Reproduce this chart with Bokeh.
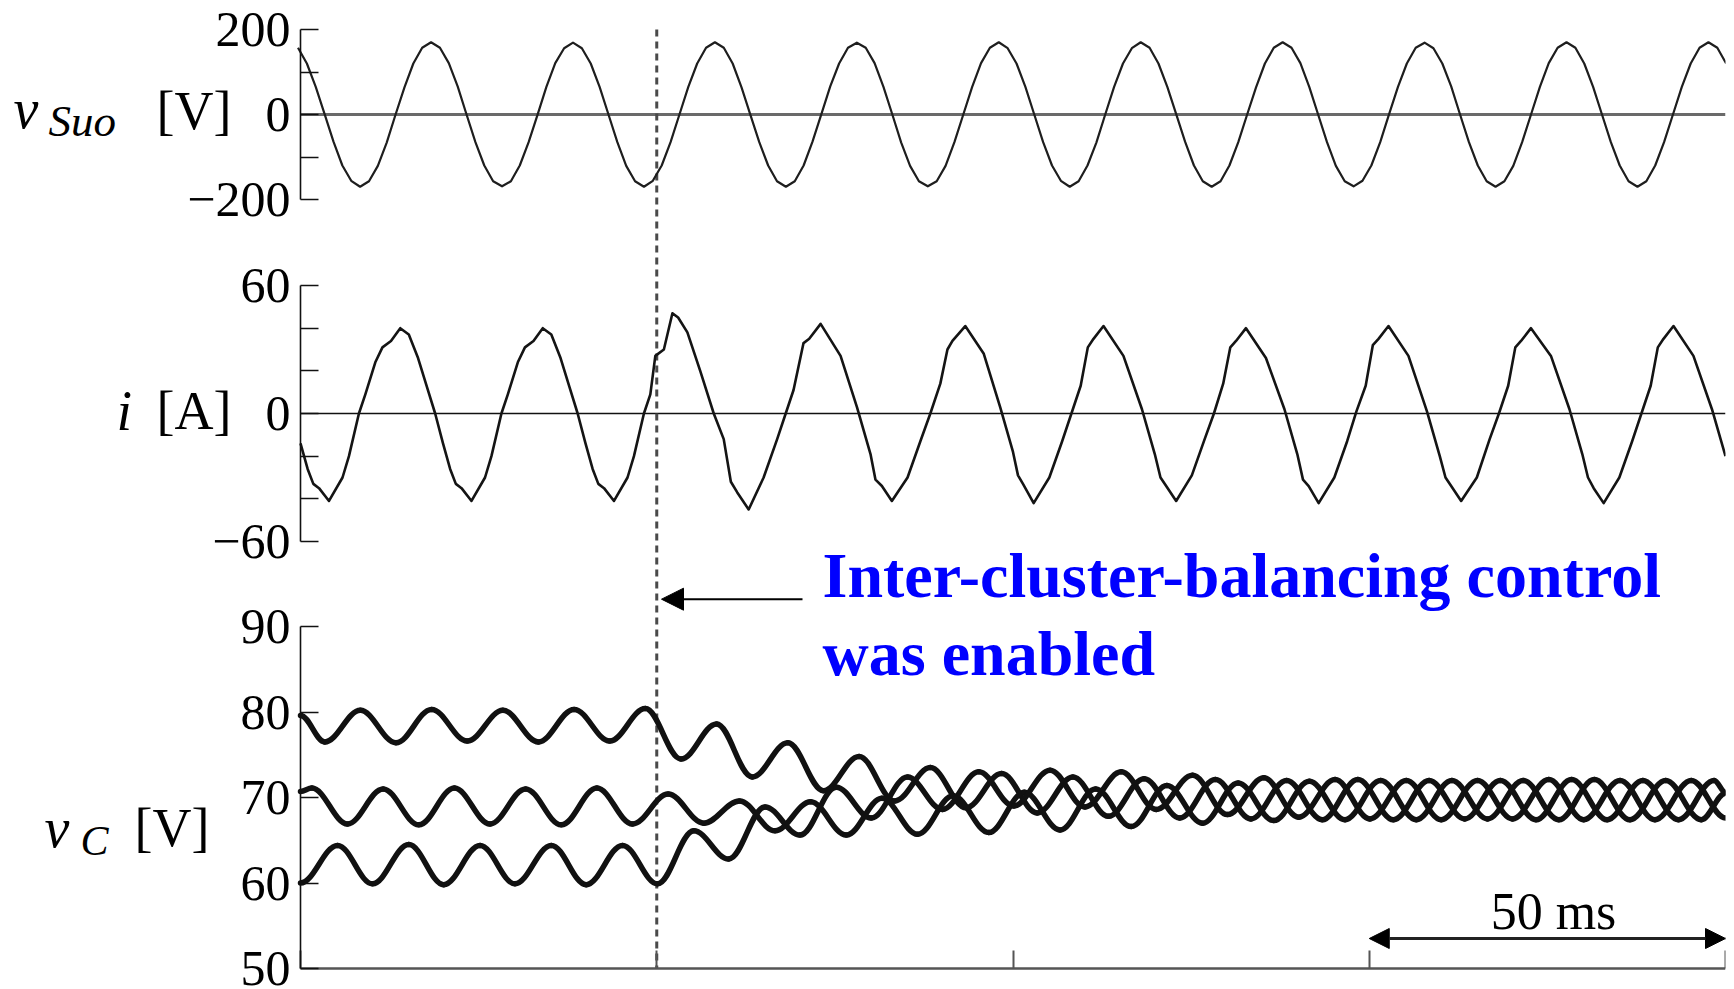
import numpy as np
from bokeh.plotting import figure
from bokeh.models import Range1d, FixedTicker, Label, Arrow, NormalHead, LinearAxis
from bokeh.embed import file_html
from bokeh.resources import INLINE

# ======================= data =======================
t_enable = 50.0                       # ms, balancing control switched on
time_ticks = [0, 50, 100, 150, 200]   # ms

# source voltage v_Suo [V], one reading every vsuo_dt ms from vsuo_t0
vsuo_t0 = -0.35
vsuo_dt = 1.245
v_suo = [157, 120, 65, 1, -64, -120, -156, -170, -157, -121, -66, 0, 64, 120, 157, 170,
         157, 121, 66, 0, -65, -120, -157, -169, -157, -120, -65, -1, 65, 121, 156, 169,
         156, 120, 65, 0, -65, -121, -157, -170, -156, -120, -65, 0, 65, 120, 157, 170,
         157, 120, 64, -1, -65, -120, -157, -170, -157, -120, -64, 1, 66, 120, 157, 169,
         157, 121, 65, 0, -66, -121, -157, -169, -157, -121, -65, 0, 65, 121, 157, 170,
         156, 120, 65, 0, -65, -120, -156, -170, -157, -120, -66, 0, 65, 120, 156, 170,
         157, 120, 65, 1, -64, -120, -157, -170, -157, -120, -65, 0, 64, 120, 157, 170,
         157, 121, 65, 0, -65, -121, -157, -169, -156, -120, -65, 1, 65, 120, 157, 169,
         156, 120, 66, 0, -65, -120, -157, -170, -157, -121, -65, 0, 65, 121, 157, 170,
         157, 120, 65, 0, -65, -120, -157, -170, -157, -120, -65, 0, 65, 120, 157, 170,
         157, 120]

# current i [A] at read-off instants [ms]
i_t = [0.0, 1.0, 1.8, 2.6,
       4.0, 5.9, 6.8, 8.2, 9.1, 10.5, 11.5, 12.7, 14.0, 15.2, 16.5, 17.7, 18.9, 20.0, 21.0, 21.8, 22.6,
       24.0, 25.9, 26.8, 28.2, 29.1, 30.5, 31.5, 32.7, 34.0, 35.2, 36.5, 37.7, 38.9, 40.0, 41.0, 41.8, 42.6,
       44.0, 45.9, 46.8, 48.2, 49.1,
       49.8, 51.0, 52.2, 53.0, 54.3, 56.1, 58.0, 59.4, 60.4, 61.3, 62.9,
       65.0, 66.9, 68.1, 69.2, 70.6, 71.4, 73.0, 75.8, 78.1, 80.0, 80.7, 81.6,
       83.0, 85.2, 87.0, 88.4, 89.8, 90.8, 91.5, 93.3, 95.9, 98.2, 100.0, 100.7, 101.4,
       102.9, 105.1, 106.9, 108.2, 109.5, 110.5, 111.3, 112.7, 115.5, 118.1, 119.9, 120.7, 121.5,
       122.9, 125.1, 126.9, 128.2, 129.5, 130.5, 131.3, 132.7, 135.5, 138.1, 139.9, 140.7, 141.5,
       142.9, 145.1, 146.9, 148.2, 149.5, 150.5, 151.3, 152.7, 155.5, 158.1, 159.9, 160.7, 161.5,
       162.9, 165.1, 166.9, 168.2, 169.5, 170.5, 171.3, 172.7, 175.5, 178.1, 179.9, 180.7, 181.5,
       182.9, 185.1, 186.9, 188.2, 189.5, 190.5, 191.3, 192.7, 195.5, 198.1, 200.0]
i_a = [-14, -26, -33, -35,
       -41, -30, -20, 0, 9, 24, 31, 34, 40, 37, 26, 13, 0, -14, -26, -33, -35,
       -41, -30, -20, 0, 9, 24, 31, 34, 40, 37, 26, 13, 0, -14, -26, -33, -35,
       -41, -30, -20, 0, 9,
       27, 30, 47, 45, 38, 20, 0, -12, -32, -37, -45,
       -30, -12, 0, 11, 33, 35, 42, 27, 3, -19, -31, -34,
       -41, -30, -13, 0, 14, 30, 34, 41, 28, 3, -18, -29, -33,
       -42, -30, -13, 0, 13, 31, 35, 41, 27, 2, -19, -30, -34,
       -41, -29, -12, 0, 14, 31, 34, 40, 26, 2, -19, -31, -34,
       -42, -30, -13, 1, 13, 32, 35, 41, 27, 1, -20, -30, -34,
       -41, -30, -12, 0, 13, 31, 34, 40, 27, 2, -19, -30, -35,
       -42, -30, -13, 0, 13, 31, 35, 41, 27, 2, -20]

# cluster capacitor voltages v_C [V]: ripple extremes [ms, V]
vc1_t = [0, 3.4, 8.4, 13.4, 18.4, 23.4, 28.4, 33.4, 38.4, 43.4, 48.4, 53.4, 58.4, 63.4, 68.4,
         73.4, 78.4, 83.4, 88.4, 93.4, 98.4, 103.4, 108.4, 113.4, 118.4, 123.4, 128.4, 133.4,
         138.4, 143.4, 148.4, 153.4, 158.4, 163.4, 168.4, 173.4, 178.4, 183.4, 188.4, 193.4,
         198.4, 200]
vc1 = [79.6, 76.5, 80.2, 76.4, 80.3, 76.6, 80.2, 76.5, 80.3, 76.6, 80.4, 74.5, 78.6, 72.4, 76.4,
       70.8, 74.8, 69.6, 73.5, 68.8, 72.8, 68.2, 72.4, 67.8, 72.2, 67.6, 72.1, 67.5,
       72.0, 67.4, 72.1, 67.4, 72.0, 67.5, 72.0, 67.4, 72.1, 67.4, 72.0, 67.4,
       72.0, 70.6]
vc2_t = [0, 1.6, 6.6, 11.6, 16.6, 21.6, 26.6, 31.6, 36.6, 41.6, 46.6, 51.6, 56.6, 61.6, 66.6,
         71.6, 76.6, 81.6, 86.6, 91.6, 96.6, 101.6, 106.6, 111.6, 116.6, 121.6, 126.6, 131.6,
         136.6, 141.6, 146.6, 151.6, 156.6, 161.6, 166.6, 171.6, 176.6, 181.6, 186.6, 191.6,
         196.6, 200]
vc2 = [70.7, 71.1, 66.9, 71.0, 66.8, 71.1, 66.9, 71.0, 66.8, 71.1, 66.9, 70.4, 67.0, 69.6, 66.1,
       69.5, 65.6, 69.9, 65.7, 70.2, 65.9, 70.6, 66.2, 71.0, 66.6, 71.4, 67.0, 71.7,
       67.3, 71.9, 67.4, 72.0, 67.4, 72.0, 67.5, 72.0, 67.4, 72.1, 67.4, 72.0,
       67.4, 70.5]
vc3_t = [0, 5.2, 10.1, 15.2, 20.1, 25.2, 30.1, 35.2, 40.1, 45.2, 50.1, 55.2, 60.1, 65.2, 70.1,
         75.2, 80.1, 85.2, 90.1, 95.2, 100.1, 105.2, 110.1, 115.2, 120.1, 125.2, 130.1, 135.2,
         140.1, 145.2, 150.1, 155.2, 160.1, 165.2, 170.1, 175.2, 180.1, 185.2, 190.1, 195.2, 200]
vc3 = [60.0, 64.4, 59.9, 64.5, 59.8, 64.4, 59.9, 64.4, 59.8, 64.4, 59.9, 66.1, 62.8, 68.9, 65.6,
       71.2, 67.6, 72.4, 68.6, 73.0, 69.0, 73.2, 68.9, 73.0, 68.6, 72.6, 68.0, 72.3,
       67.7, 72.1, 67.5, 72.0, 67.4, 72.0, 67.5, 72.1, 67.4, 72.0, 67.4, 72.0, 67.6]

# axes ticks and texts
top_ticks, top_minor = [-200, 0, 200], [-100, 100]
top_labels = {-200: "\u2212200"}
mid_ticks, mid_minor = [-60, 0, 60], [-40, -20, 20, 40]
mid_labels = {-60: "\u221260"}
bot_ticks = [50, 60, 70, 80, 90]
note_lines = ["Inter-cluster-balancing control", "was enabled"]
scale_start, scale_end = 150, 200
scale_text = "50 ms"

# ======================= layout (pixels) =======================
W, H = 1734, 989
AXIS_X = 300              # canvas x of t = 0
RIGHT = 9
PX_MS = (W - AXIS_X - RIGHT) / 200.0
SERIF = "Liberation Serif"


def ms(px):
    return (px - AXIS_X) / PX_MS


class Panel:
    """maps one sub-panel's values onto the shared frame (0 .. H px)"""
    def __init__(self, v_hi, px_hi, v_lo, px_lo):
        self.k = (px_lo - px_hi) / (v_hi - v_lo)
        self.end = v_hi + px_hi / self.k
        self.start = v_lo - (H - px_lo) / self.k

    def y(self, px):
        return self.end - px / self.k

    def rng(self):
        return Range1d(self.start, self.end)


PV = Panel(200, 29, -200, 199)
PI = Panel(60, 285, -60, 541)
PC = Panel(90, 626, 50, 968)

p = figure(width=W, height=H, title=None,
           x_range=Range1d(ms(0), 200), y_range=PV.rng(),
           output_backend="svg", toolbar_location=None,
           x_axis_location=None, y_axis_location=None,
           min_border_left=0, min_border_right=RIGHT,
           min_border_top=0, min_border_bottom=0)
p.extra_y_ranges = {"i": PI.rng(), "vc": PC.rng()}
p.outline_line_color = None
p.background_fill_color = "white"
p.border_fill_color = "white"
for g in p.grid:
    g.visible = False
p.xgrid.grid_line_color = None
p.ygrid.grid_line_color = None


def style_ticks(ax, color, width):
    ax.axis_line_color = color
    ax.axis_line_width = width
    for kind in ("major", "minor"):
        setattr(ax, f"{kind}_tick_line_color", color)
        setattr(ax, f"{kind}_tick_line_width", min(width, 2))
        setattr(ax, f"{kind}_tick_in", 18)
        setattr(ax, f"{kind}_tick_out", 0)


def add_yaxis(range_name, ticks, minor, overrides, bounds):
    ax = LinearAxis(y_range_name=range_name, fixed_location=0,
                    ticker=FixedTicker(ticks=ticks, minor_ticks=minor), bounds=bounds)
    if overrides:
        ax.major_label_overrides = overrides
    style_ticks(ax, "#111111", 1.6)
    ax.major_label_standoff = 10
    ax.major_label_text_font = SERIF
    ax.major_label_text_font_size = "50px"
    ax.major_label_text_color = "black"
    p.add_layout(ax, "left")


add_yaxis("default", top_ticks, top_minor, top_labels, (-200, 200))
add_yaxis("i", mid_ticks, mid_minor, mid_labels, (-60, 60))
add_yaxis("vc", bot_ticks, [], None, (50, 90))

# time axis (no labels) at v_C = 50 V
xa = LinearAxis(y_range_name="vc", fixed_location=bot_ticks[0],
                ticker=FixedTicker(ticks=time_ticks, minor_ticks=[]), bounds=(0, 200))
style_ticks(xa, "#555555", 2.5)
xa.major_label_text_color = None
p.add_layout(xa, "below")

# zero lines
p.segment(x0=[0], y0=[0], x1=[200], y1=[0], line_color="#6a6a6a", line_width=3)
p.segment(x0=[0], y0=[0], x1=[200], y1=[0], line_color="#111111", line_width=1.5,
          y_range_name="i")

# dashed event marker from the top tick down to the time axis
p.segment(x0=[t_enable], y0=[top_ticks[-1]], x1=[t_enable], y1=[PV.y(968)],
          line_color="#4a4a4a", line_width=3, line_dash="7 5")

# curves
t_suo = vsuo_t0 + vsuo_dt * np.arange(len(v_suo))
p.line(t_suo, v_suo, line_color="#1e1e1e", line_width=2.2, line_join="round")
p.line(i_t, i_a, line_color="#141414", line_width=2.6, line_join="round", y_range_name="i")

# capacitor voltages: smooth ripple drawn through the read extremes
C = 0.3634
for tt, vv in ((vc1_t, vc1), (vc2_t, vc2), (vc3_t, vc3)):
    t = np.asarray(tt, float)
    v = np.asarray(vv, float)
    d = t[1:] - t[:-1]
    p.bezier(x0=t[:-1], y0=v[:-1], x1=t[1:], y1=v[1:],
             cx0=t[:-1] + C * d, cy0=v[:-1], cx1=t[1:] - C * d, cy1=v[1:],
             line_color="#111111", line_width=5.5, line_cap="round", y_range_name="vc")


def add_label(px, base_px, panel, rname, text, size, style="normal", color="black", align="left"):
    mid = base_px - 0.3375 * size
    p.add_layout(Label(x=ms(px), y=panel.y(mid), y_range_name=rname, text=text,
                       text_font=SERIF, text_font_size=f"{size}px", text_font_style=style,
                       text_color=color, text_align=align, text_baseline="middle"))


# y-axis titles
add_label(13, 127, PV, "default", "v", 56, "italic")
add_label(48, 136, PV, "default", "Suo", 45, "italic")
add_label(156, 129, PV, "default", "[V]", 54)
add_label(116, 429, PI, "i", "i", 56, "italic")
add_label(156, 429, PI, "i", "[A]", 54)
add_label(44, 846, PC, "vc", "v", 56, "italic")
add_label(80, 855, PC, "vc", "C", 42, "italic")
add_label(134, 846, PC, "vc", "[V]", 54)

# annotation
head = dict(fill_color="black", line_color="black")
p.add_layout(Arrow(end=NormalHead(size=22, **head),
                   x_start=ms(802), y_start=PC.y(598.7), x_end=ms(661), y_end=PC.y(598.7),
                   y_range_name="vc", line_color="black", line_width=2))
add_label(822, 597, PC, "vc", note_lines[0], 64, "bold", "#0000FF")
add_label(822, 675, PC, "vc", note_lines[1], 64, "bold", "#0000FF")

# 50 ms scale bar
p.add_layout(Arrow(start=NormalHead(size=20, **head), end=NormalHead(size=20, **head),
                   x_start=scale_start, y_start=PC.y(938), x_end=scale_end, y_end=PC.y(938),
                   y_range_name="vc", line_color="#222222", line_width=3))
add_label(1553, 929, PC, "vc", scale_text, 52, align="center")

open("out.html", "w").write(file_html(p, INLINE))
